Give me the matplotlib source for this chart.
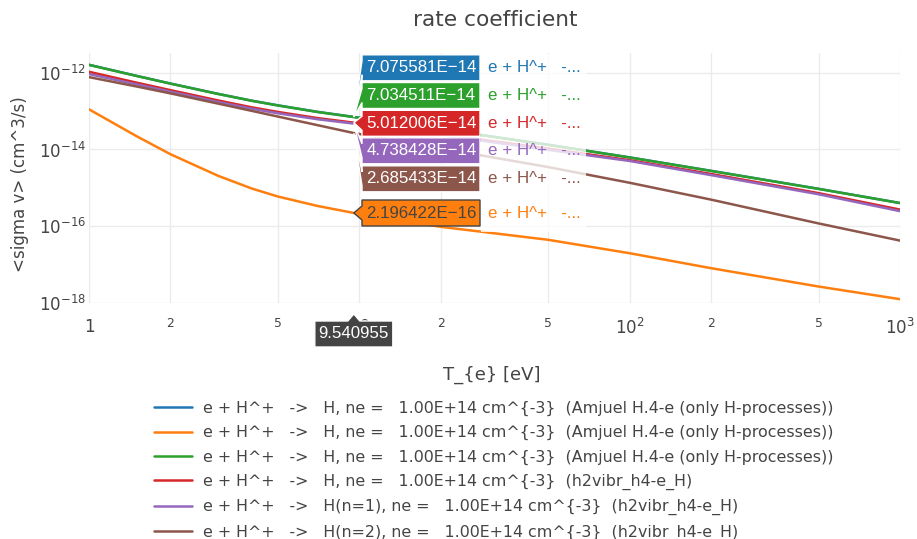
import numpy as np
import matplotlib.pyplot as plt
from matplotlib.patches import Polygon, Rectangle
from matplotlib.ticker import FixedLocator, FixedFormatter, NullFormatter

plt.rcParams['font.family'] = ['DejaVu Sans']
HOVER_FONT = ['Liberation Sans', 'DejaVu Sans']

# electron temperature grid (eV); 9.540955 is the hovered point
T = [1, 1.5, 2, 3, 4, 5, 7, 9.540955, 20, 50, 100, 200, 500, 1000]

amjuel_a = [1.63e-12, 8.37e-13, 5.28e-13, 2.84e-13, 1.88e-13, 1.42e-13, 9.61e-14, 7.075581e-14,
            3.41e-14, 1.33e-14, 6.21e-15, 2.77e-15, 9.39e-16, 4.0e-16]
amjuel_b = [1.12e-13, 2.22e-14, 7.53e-15, 2.06e-15, 9.55e-16, 5.9e-16, 3.35e-16, 2.196422e-16,
            9.55e-17, 4.37e-17, 1.95e-17, 7.94e-18, 2.63e-18, 1.23e-18]
amjuel_c = [1.62e-12, 8.32e-13, 5.25e-13, 2.82e-13, 1.87e-13, 1.41e-13, 9.55e-14, 7.034511e-14,
            3.39e-14, 1.32e-14, 6.17e-15, 2.75e-15, 9.33e-16, 3.98e-16]
h2vibr = [1.07e-12, 5.56e-13, 3.55e-13, 1.91e-13, 1.26e-13, 9.55e-14, 6.61e-14, 5.012006e-14,
          2.51e-14, 1.05e-14, 5.25e-15, 2.29e-15, 7.24e-16, 2.69e-16]
h2vibr_n1 = [9.33e-13, 5.01e-13, 3.24e-13, 1.74e-13, 1.16e-13, 8.81e-14, 6.17e-14, 4.738428e-14,
             2.37e-14, 9.77e-15, 5.01e-15, 2.14e-15, 6.76e-16, 2.45e-16]
h2vibr_n2 = [7.76e-13, 4.42e-13, 2.92e-13, 1.58e-13, 1.02e-13, 7.24e-14, 4.32e-14, 2.685433e-14,
             1.07e-14, 3.47e-15, 1.35e-15, 4.9e-16, 1.17e-16, 4.17e-17]

series = [amjuel_a, amjuel_b, amjuel_c, h2vibr, h2vibr_n1, h2vibr_n2]
colors = ['#1f77b4', '#ff7f0e', '#2ca02c', '#d62728', '#9467bd', '#8c564b']
labels = [
    'e + H^+   ->   H, ne =   1.00E+14 cm^{-3}  (Amjuel H.4-e (only H-processes))',
    'e + H^+   ->   H, ne =   1.00E+14 cm^{-3}  (Amjuel H.4-e (only H-processes))',
    'e + H^+   ->   H, ne =   1.00E+14 cm^{-3}  (Amjuel H.4-e (only H-processes))',
    'e + H^+   ->   H, ne =   1.00E+14 cm^{-3}  (h2vibr_h4-e_H)',
    'e + H^+   ->   H(n=1), ne =   1.00E+14 cm^{-3}  (h2vibr_h4-e_H)',
    'e + H^+   ->   H(n=2), ne =   1.00E+14 cm^{-3}  (h2vibr_h4-e_H)',
]
hover_x = 9.540955
hover_idx = T.index(hover_x)
hover_text = ['7.075581E\u221214', '2.196422E\u221216', '7.034511E\u221214',
              '5.012006E\u221214', '4.738428E\u221214', '2.685433E\u221214']
hover_name = 'e + H^+   -...'

W, H = 917, 539
fig = plt.figure(figsize=(W / 100, H / 100), dpi=100)
ax = fig.add_axes([89 / W, 1 - 303 / H, (900 - 89) / W, 250 / H])

for s, c, lab in zip(series, colors, labels):
    ax.plot(T, s, color=c, lw=1.8, label=lab, solid_capstyle='round')

ax.set_xscale('log')
ax.set_yscale('log')
ax.set_xlim(1, 1000)
ax.set_ylim(10 ** -18.01, 10 ** -11.48)

ax.xaxis.set_major_locator(FixedLocator([1, 10, 100, 1000]))
ax.xaxis.set_major_formatter(FixedFormatter(['1', '10', '$10^2$', '$10^3$']))
ax.xaxis.set_minor_locator(FixedLocator([2, 5, 20, 50, 200, 500]))
ax.xaxis.set_minor_formatter(FixedFormatter(['2', '5', '2', '5', '2', '5']))
ax.yaxis.set_major_locator(FixedLocator([1e-18, 1e-16, 1e-14, 1e-12]))
ax.yaxis.set_major_formatter(FixedFormatter(['$10^{-18}$', '$10^{-16}$', '$10^{-14}$', '$10^{-12}$']))
ax.yaxis.set_minor_locator(FixedLocator([]))
ax.yaxis.set_minor_formatter(NullFormatter())

ax.tick_params(which='both', length=0, colors='#444')
ax.tick_params(axis='x', which='major', labelsize=12, pad=11)
ax.tick_params(axis='x', which='minor', labelsize=8.8, pad=10)
ax.tick_params(axis='y', labelsize=12, pad=2)
ax.grid(True, which='both', color='#ebebeb', lw=1)
for sp in ax.spines.values():
    sp.set_visible(False)

fig.text(495 / W, 1 - 20 / H, 'rate coefficient', ha='center', va='center',
         fontsize=15.6, color='#444')
fig.text(492 / W, 1 - 375 / H, 'T_{e} [eV]', ha='center', va='center',
         fontsize=13, color='#444')
fig.text(20 / W, 1 - 184 / H, '<sigma v> (cm^3/s)', ha='center', va='center',
         rotation=90, fontsize=12, color='#444')

fig.legend(loc='upper left', bbox_to_anchor=(154 / W, 1 - 401 / H), frameon=False,
           fontsize=11.45, handlelength=2.4, handletextpad=0.7, labelspacing=0.57,
           borderpad=0, borderaxespad=0, labelcolor='#444')

# hover labels (pixel coordinates, origin bottom-left)
fig.canvas.draw()
box_y = [67.8, 213, 95.5, 123.3, 150.8, 178.8]
box_left, box_right, bh = 362, 480, 26
fig.add_artist(Rectangle((481, H - 232), 105, 178, transform=None,
                         facecolor='white', alpha=0.78, edgecolor='none', zorder=3))
for s, c, txt, yc in zip(series, colors, hover_text, box_y):
    px, py = ax.transData.transform((hover_x, s[hover_idx]))
    yd = H - yc
    dark = c == '#ff7f0e'
    edge = '#444' if dark else 'white'
    fig.add_artist(Polygon([(box_left, yd - bh / 2), (box_right, yd - bh / 2),
                            (box_right, yd + bh / 2), (box_left, yd + bh / 2),
                            (box_left, yd + 7), (px, py), (box_left, yd - 7)],
                           closed=True, transform=None, facecolor=c,
                           edgecolor=edge, lw=1, zorder=4))
    fig.text((box_left + 4.5) / W, yd / H, txt, ha='left', va='center', fontsize=12.2,
             color='#444' if dark else 'white', zorder=5, family=HOVER_FONT)
    fig.text(488 / W, yd / H, hover_name, ha='left', va='center', fontsize=12.2,
             color=c, zorder=5, family=HOVER_FONT)

# x-axis hover label
px, _ = ax.transData.transform((hover_x, 1e-18))
fig.add_artist(Polygon([(px - 39, H - 347), (px + 39, H - 347), (px + 39, H - 321),
                        (px + 6, H - 321), (px, H - 314), (px - 6, H - 321),
                        (px - 39, H - 321)], closed=True, transform=None,
                       facecolor='#444', edgecolor='white', lw=1, zorder=4))
fig.text(px / W, 1 - 334 / H, '9.540955', ha='center', va='center', fontsize=12.2,
         color='white', zorder=5, family=HOVER_FONT)

fig.savefig('out.png', dpi=100)
